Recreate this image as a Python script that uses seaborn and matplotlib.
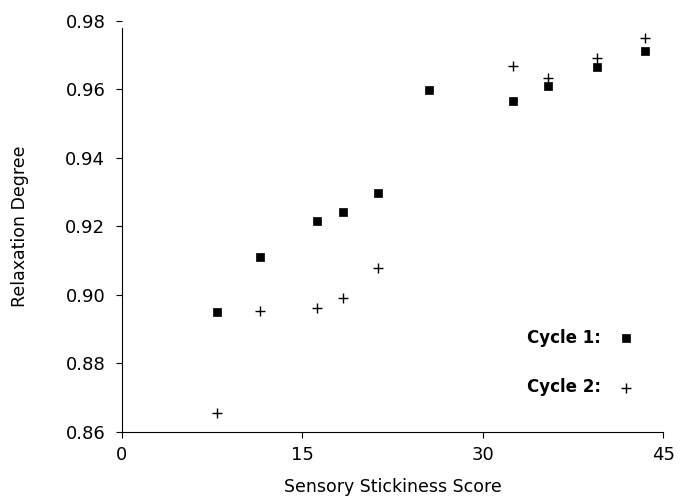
import pandas as pd
import numpy as np
import matplotlib.pyplot as plt
import seaborn as sns

# values
score = [7.9, 11.5, 16.2, 18.4, 21.3, 25.5, 32.5, 35.4, 39.5, 43.5]
cycle1 = [0.895, 0.911, 0.9215, 0.9243, 0.9298, 0.9597, 0.9567, 0.961, 0.9666, 0.9712]
score2 = [7.9, 11.5, 16.2, 18.4, 21.3, 32.5, 35.4, 39.5, 43.5]
cycle2 = [0.8655, 0.8953, 0.8962, 0.8991, 0.9078, 0.9669, 0.9634, 0.9691, 0.9749]

df1 = pd.DataFrame({'score': score, 'degree': cycle1})
df2 = pd.DataFrame({'score': score2, 'degree': cycle2})

sns.set_style('ticks')
plt.rcParams['font.family'] = ['DejaVu Sans']
plt.rcParams['text.color'] = 'black'
plt.rcParams['axes.labelcolor'] = 'black'
plt.rcParams['axes.edgecolor'] = 'black'

fig, ax = plt.subplots(figsize=(6.93, 4.96), dpi=100)
fig.subplots_adjust(left=0.176, right=0.957, bottom=0.129, top=0.958)

sns.scatterplot(data=df1, x='score', y='degree', marker='s', s=28, color='black',
                edgecolor='black', linewidth=0.5, label='Cycle 1:', ax=ax)
sns.scatterplot(data=df2, x='score', y='degree', marker='+', s=60, color='black',
                linewidth=1.0, label='Cycle 2:', ax=ax)

ax.set_xlim(0, 45)
ax.set_ylim(0.86, 0.98)
ax.set_xticks([0, 15, 30, 45])
ax.set_yticks(np.arange(0.86, 0.981, 0.02))
ax.set_yticklabels(['0.86', '0.88', '0.90', '0.92', '0.94', '0.96', '0.98'])
ax.tick_params(axis='both', labelsize=13, length=4, width=0.8, colors='black')
ax.tick_params(axis='y', pad=8)
ax.tick_params(axis='x', pad=6)
ax.spines['left'].set_bounds(0.86, 0.978)
sns.despine(ax=ax)

ax.set_xlabel('Sensory Stickiness Score', fontsize=12.5, labelpad=10)
ax.set_ylabel('Relaxation Degree', fontsize=12.5, labelpad=26)

ax.legend(loc='lower right', bbox_to_anchor=(0.975, 0.05), frameon=False, markerfirst=False,
          prop={'weight': 'bold', 'size': 12}, labelspacing=1.9, handletextpad=1.0,
          handlelength=1.0)

fig.savefig('out.png', dpi=100)
